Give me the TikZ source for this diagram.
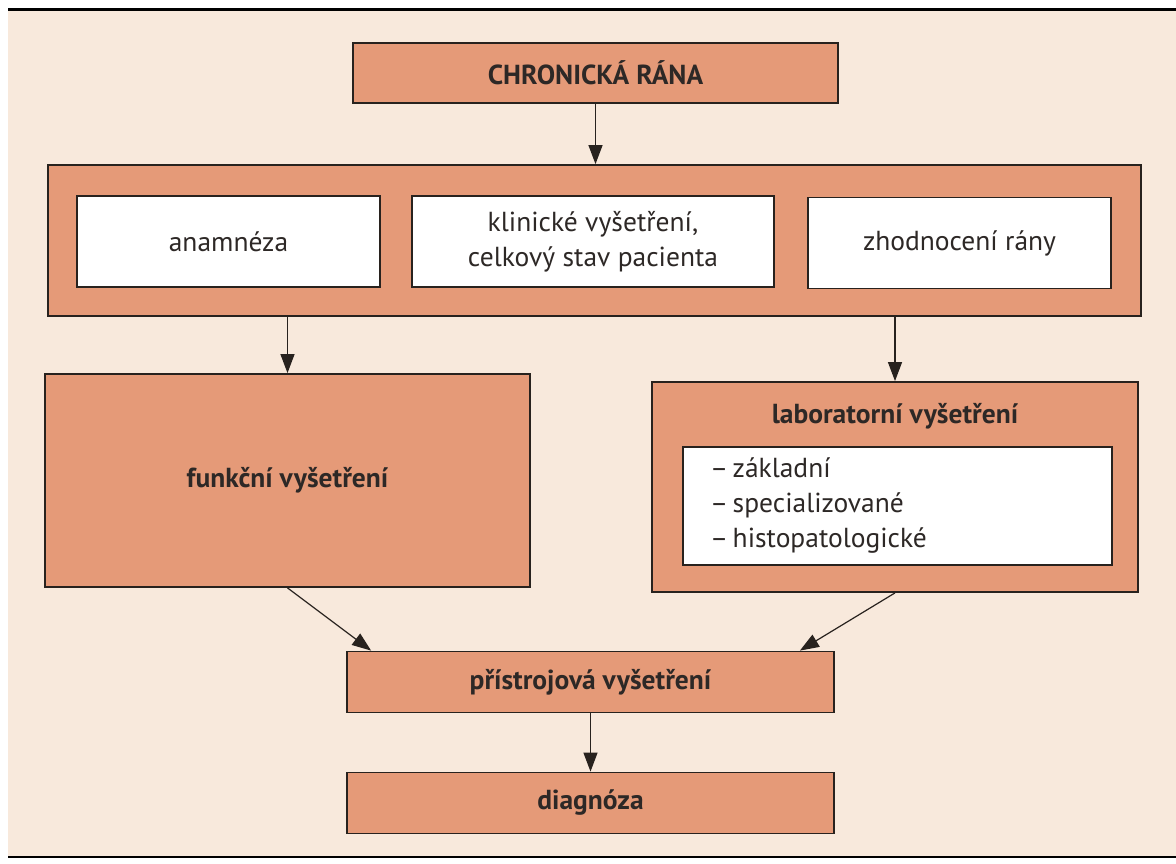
\documentclass[tikz,border=0pt]{standalone}
\usepackage{fontspec}
\setmainfont{PT Sans}
\usetikzlibrary{arrows.meta}
\definecolor{losos}{RGB}{229,154,120}
\definecolor{papir}{RGB}{248,233,220}
\definecolor{linka}{RGB}{40,34,30}
\definecolor{pismo}{RGB}{45,40,38}

\begin{document}
\begin{tikzpicture}[x=1pt,y=-1pt,
        box/.style={draw=linka,line width=1.8pt,fill=losos,inner sep=0pt,text=pismo,
            font=\fontsize{27.5}{35}\selectfont\bfseries},
        wbox/.style={draw=linka,line width=1.8pt,fill=white,inner sep=0pt,text=pismo,
            align=center,font=\fontsize{27.5}{35}\selectfont},
        arr/.style={draw=linka,line width=1.2pt,-{Triangle[length=19pt,width=14pt]}}]
    \useasboundingbox (0,0) rectangle (1176,864);
    \fill[papir] (8,10) rectangle (1176,857);
    \draw[line width=3pt] (8,10) -- (1176,10);
    \draw[line width=2.5pt] (8,857) -- (1176,857);

    \node[box,minimum width=485,minimum height=60] (rana) at (595.5,73) {CHRONICKÁ RÁNA};

    \node[box,minimum width=1093,minimum height=151] (anamnezy) at (594.5,240.5) {};
    \node[wbox,minimum width=303,minimum height=91] (anamneza) at (228.5,241.5) {anamnéza};
    \node[wbox,minimum width=362,minimum height=91] (klinicke) at (593,241.5) {klinické vyšetření,\\celkový stav pacienta};
    \node[wbox,minimum width=303,minimum height=91] (zhodnoceni) at (959.5,243) {zhodnocení rány};

    \node[box,minimum width=485,minimum height=213] (funkcni) at (287.5,480.5) {funkční vyšetření};

    \node[box,minimum width=486,minimum height=210] (lab) at (895,487) {};
    \node[text=pismo,font=\fontsize{27.5}{35}\selectfont\bfseries] (labtitul) at (895,416) {laboratorní vyšetření};
    \node[wbox,minimum width=429,minimum height=118,text width=375,align=left] (labtyp) at (897.5,506)
        {–\,základní\\–\,specializované\\–\,histopatologické};

    \node[box,minimum width=487,minimum height=61] (pristroj) at (590.5,682) {přístrojová vyšetření};
    \node[box,minimum width=487,minimum height=61] (diagnoza) at (590.5,803) {diagnóza};

    \draw[arr] (rana.south) -- (rana.south |- anamnezy.north);
    \draw[arr] (anamnezy.south -| funkcni.north) -- (funkcni.north);
    \draw[arr] (anamnezy.south -| lab.north) -- (lab.north);
    \draw[arr] (funkcni.south) -- ([xshift=25]pristroj.north west);
    \draw[arr] (lab.south) -- ([xshift=-35]pristroj.north east);
    \draw[arr] (pristroj.south) -- (diagnoza.north);
\end{tikzpicture}
\end{document}
